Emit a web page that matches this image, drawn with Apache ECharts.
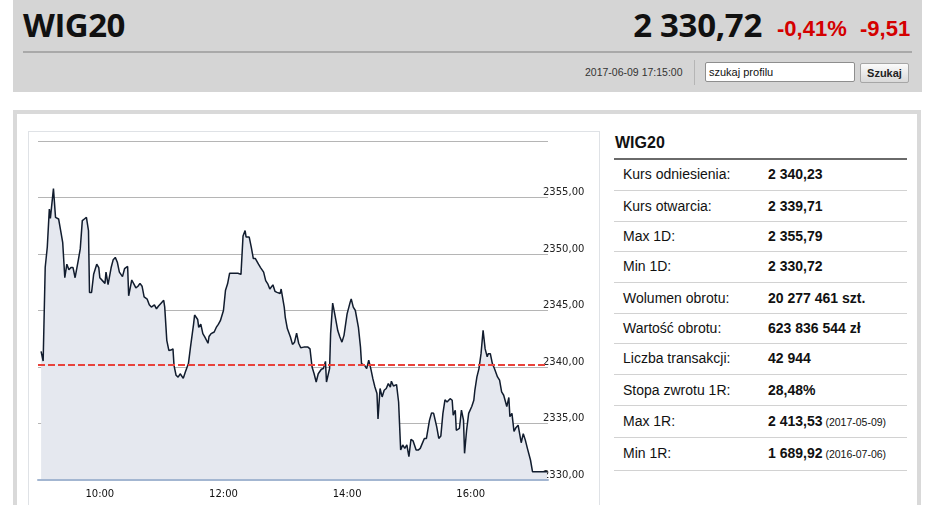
<!DOCTYPE html>
<html>
<head>
<meta charset="utf-8">
<script src="https://cdn.jsdelivr.net/npm/echarts@6/dist/echarts.min.js"></script>
<style>
  html,body{margin:0;padding:0;background:#fff;}
  body{width:945px;height:505px;overflow:hidden;position:relative;font-family:"Liberation Sans",Arial,sans-serif;}
  .abs{position:absolute;}
  #hdr{left:13px;top:0;width:909px;height:92px;background:#d5d5d5;}
  #hline{left:23px;top:51px;width:889px;height:2px;background:#a9a9a9;}
  #title{left:23px;top:3px;font-family:"Open Sans",sans-serif;font-weight:700;font-size:33px;line-height:44px;color:#111;letter-spacing:-0.5px;}
  #price{right:183px;top:3px;font-family:"Open Sans",sans-serif;font-weight:700;font-size:33px;line-height:44px;color:#111;letter-spacing:-0.3px;}
  #chg1{left:777px;top:14px;font-weight:700;font-size:22px;line-height:30px;color:#d40000;}
  #chg2{left:860px;top:14px;font-weight:700;font-size:22px;line-height:30px;color:#d40000;}
  #date{left:585px;top:65px;font-size:10.5px;line-height:14px;color:#333;}
  #vsep{left:694px;top:60px;width:1px;height:25px;background:#b5b5b5;}
  #inp{left:705px;top:62px;background:#fff;border:1px solid #8e8e8e;border-radius:2px;font-size:11px;line-height:18px;color:#111;padding-left:3px;box-sizing:border-box;width:150px;height:20px;}
  #btn{left:860px;top:63px;width:49px;height:20px;box-sizing:border-box;border:1px solid #a6a6a6;border-radius:2px;background:linear-gradient(#fbfbfb,#d9d9d9);font-size:11px;font-weight:700;line-height:18px;text-align:center;color:#222;}
  #panel{left:13px;top:110px;width:908px;height:420px;box-sizing:border-box;border:4px solid #d9d9d9;background:#fff;}
  #frame{left:28px;top:131px;width:572px;height:400px;box-sizing:border-box;border:1px solid #dfe2e6;}
  #chart{left:29px;top:132px;width:570px;height:373px;}
  #ttitle{left:615px;top:132px;font-weight:700;font-size:16px;line-height:22px;color:#111;}
  #thline{left:614px;top:158px;width:293px;height:2px;background:#6a6a6a;}
  .row{position:absolute;left:614px;width:293px;border-bottom:1px solid #d2d2d2;box-sizing:border-box;font-size:14px;color:#111;}
  .row .l{position:absolute;left:9px;}
  .row .v{position:absolute;left:154px;font-weight:700;}
  .row .d{font-weight:400;font-size:10.5px;}
</style>
</head>
<body>
<div id="hdr" class="abs"></div>
<div id="hline" class="abs"></div>
<div id="title" class="abs">WIG20</div>
<div id="price" class="abs">2 330,72</div>
<div id="chg1" class="abs">-0,41%</div>
<div id="chg2" class="abs">-9,51</div>
<div id="date" class="abs">2017-06-09 17:15:00</div>
<div id="vsep" class="abs"></div>
<div id="inp" class="abs">szukaj profilu</div>
<div id="btn" class="abs">Szukaj</div>
<div id="panel" class="abs"></div>
<div id="frame" class="abs"></div>
<div id="ttitle" class="abs">WIG20</div>
<div id="thline" class="abs"></div>
<div id="rows"></div>
<div id="chart" class="abs"></div>
<script>
// minutes since 09:00
var times = [
  3,5,7,9,11,12,15,17,20,22,
  24,26,28,30,32,34,36,39,41,43,
  45,47,49,50,52,54,57,59,60,63,
  65,66,68,71,73,75,77,79,80,82,
  84,87,88,91,93,95,97,99,101,103,
  106,108,110,113,115,117,119,122,123,125,
  127,129,131,132,134,136,138,141,143,146,
  148,151,152,155,156,158,160,162,165,166,
  168,171,173,175,177,180,182,184,186,190,
  194,197,199,201,202,205,207,209,211,214,
  216,219,221,223,225,228,230,232,235,236,
  239,240,242,245,247,249,251,253,255,258,
  262,264,266,268,270,272,275,277,279,280,
  283,284,286,288,291,293,295,297,298,300,
  303,304,306,308,311,313,314,317,319,321,
  323,325,327,329,330,332,334,336,338,340,
  342,343,345,348,350,352,354,356,358,360,
  362,364,367,369,371,373,375,377,380,382,
  384,387,389,391,393,395,397,400,402,403,
  405,406,409,411,413,414,416,418,421,423,
  424,426,428,430,432,434,436,437,439,441,
  443,446,448,450,452,455,457,458,460,462,
  464,466,469,471,473,475,478,480,494
];
var values = [
  2341.39,2340.53,2348.83,2350.6,2353.98,2353.15,2355.79,2353.24,2353.1,2352.07,
  2351.0,2347.9,2349.1,2348.6,2348.8,2348.8,2347.9,2349.4,2350.45,2352.95,
  2353.1,2353.24,2352.07,2346.6,2346.6,2348.2,2349.1,2348.8,2347.9,2347.6,
  2347.4,2348.4,2347.3,2348.8,2349.5,2349.7,2349.27,2348.4,2348.4,2348.0,
  2348.7,2348.9,2346.3,2347.7,2347.36,2347.0,2347.15,2347.4,2347.15,2346.2,
  2346.0,2345.5,2345.3,2345.5,2345.15,2345.4,2345.6,2345.9,2345.3,2342.36,
  2341.47,2341.5,2341.6,2340.15,2339.27,2339.1,2339.4,2339.0,2339.56,2340.3,
  2341.76,2343.8,2344.6,2344.2,2343.5,2343.8,2342.95,2342.65,2342.1,2342.7,
  2342.95,2343.1,2343.5,2343.77,2344.1,2345.0,2346.8,2347.36,2348.3,2348.3,
  2348.3,2348.2,2351.6,2352.07,2351.5,2351.5,2350.6,2349.6,2349.6,2349.1,
  2348.8,2348.4,2347.65,2347.36,2346.9,2347.27,2346.7,2346.6,2346.5,2346.9,
  2345.3,2344.4,2343.4,2342.65,2342.0,2342.2,2343.0,2342.1,2341.7,2341.76,
  2341.76,2341.6,2340.0,2339.4,2338.67,2339.4,2339.8,2339.86,2340.5,2338.67,
  2339.86,2342.95,2345.65,2344.7,2343.2,2342.65,2342.2,2342.8,2342.95,2344.7,
  2345.74,2346.03,2345.3,2345.0,2343.5,2341.76,2340.3,2340.15,2339.86,2340.6,
  2339.86,2338.97,2338.23,2337.65,2335.4,2338.1,2337.35,2337.94,2338.1,2338.53,
  2338.23,2338.74,2338.32,2338.44,2336.9,2332.65,2333.1,2332.8,2333.1,2332.06,
  2333.6,2333.47,2332.65,2332.65,2332.8,2333.24,2333.68,2333.68,2335.3,2335.94,
  2335.9,2334.7,2333.68,2333.9,2335.9,2337.1,2336.9,2337.2,2337.06,2335.74,
  2336.18,2334.4,2334.56,2336.18,2335.3,2332.36,2334.4,2335.9,2336.5,2337.06,
  2337.94,2339.12,2339.86,2341.18,2343.24,2341.6,2340.9,2341.18,2341.18,2340.3,
  2339.86,2339.12,2338.83,2337.8,2337.5,2336.5,2337.3,2335.6,2335.9,2334.3,
  2334.65,2334.85,2333.3,2334.1,2333.53,2332.8,2331.77,2330.72,2330.72
];
var referencePrice = 2340.23;
var xTickMinutes = [60, 180, 300, 420];
var tableLabels = ["Kurs odniesienia:","Kurs otwarcia:","Max 1D:","Min 1D:","Wolumen obrotu:","Wartość obrotu:","Liczba transakcji:","Stopa zwrotu 1R:","Max 1R:","Min 1R:"];
var tableValues = ["2 340,23","2 339,71","2 355,79","2 330,72","20 277 461 szt.","623 836 544 zł","42 944","28,48%","2 413,53","1 689,92"];
var tableDates = ["","","","","","","","","(2017-05-09)","(2016-07-06)"];

// table rows
var rowHeights = [30.5,31,30.5,30.5,31,30.5,30.5,31,32.5,32.5];
var rowsDiv = document.getElementById('rows');
var y = 160;
for (var i = 0; i < tableLabels.length; i++) {
  var r = document.createElement('div');
  r.className = 'row';
  r.style.top = y + 'px';
  r.style.height = rowHeights[i] + 'px';
  r.style.lineHeight = (rowHeights[i] - 1) + 'px';
  var l = document.createElement('span'); l.className = 'l'; l.textContent = tableLabels[i];
  var v = document.createElement('span'); v.className = 'v'; v.textContent = tableValues[i];
  if (tableDates[i]) {
    var d = document.createElement('span'); d.className = 'd'; d.textContent = ' ' + tableDates[i];
    v.appendChild(d);
  }
  r.appendChild(l); r.appendChild(v);
  rowsDiv.appendChild(r);
  y += rowHeights[i];
}

var data = times.map(function (t, i) { return [t, values[i]]; });
var chart = echarts.init(document.getElementById('chart'), null, {renderer: 'canvas'});
chart.setOption({
  animation: false,
  grid: {left: 9, top: 9, width: 510, height: 339, containLabel: false},
  xAxis: {
    type: 'value', min: 0, max: 495, z: 5,
    axisLine: {show: true, onZero: false, lineStyle: {color: '#a3b6d1', width: 2}},
    axisTick: {show: false},
    axisLabel: {
      customValues: xTickMinutes, margin: 9,
      fontFamily: 'DejaVu Sans', fontSize: 10, color: '#111',
      formatter: function (m) { return (9 + m / 60) + ':00'; }
    },
    splitLine: {show: false}
  },
  yAxis: {
    type: 'value', position: 'right', min: 2330, max: 2360, interval: 5,
    axisLine: {show: false}, axisTick: {show: false},
    axisLabel: {
      margin: -5, verticalAlign: 'bottom', showMaxLabel: false,
      fontFamily: 'DejaVu Sans', fontSize: 10, color: '#222',
      formatter: function (v) { return v.toFixed(2).replace('.', ','); }
    },
    splitLine: {show: true, lineStyle: {color: '#b5b5b5', width: 1.2}}
  },
  series: [{
    type: 'line', data: data, symbol: 'none', z: 3, clip: false,
    lineStyle: {color: '#111c2e', width: 1.5},
    areaStyle: {color: '#e5e8ef', opacity: 1},
    markLine: {
      silent: true, symbol: 'none', label: {show: false},
      lineStyle: {color: '#e8433c', type: [7, 3], width: 2},
      data: [{yAxis: referencePrice}].concat(xTickMinutes.map(function (m) {
        return [
          {coord: [m, 2330], lineStyle: {color: '#8ea5c6', type: 'solid', width: 2}},
          {coord: [m, 2329.35]}
        ];
      }))
    }
  }]
});
</script>
</body>
</html>
